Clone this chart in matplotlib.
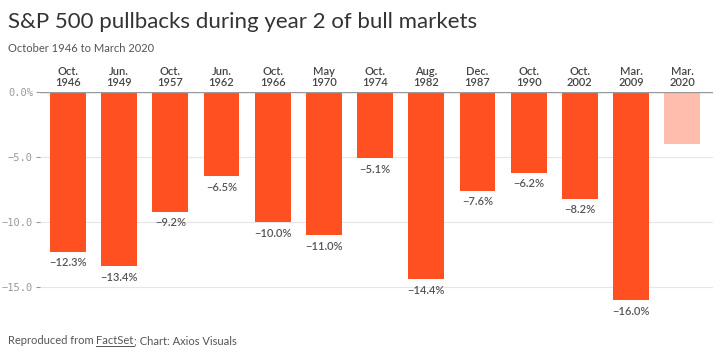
import matplotlib.pyplot as plt

# Datos
fechas = ['Oct.\n1946', 'Jun.\n1949', 'Oct.\n1957', 'Jun.\n1962', 'Oct.\n1966', 'May\n1970',
          'Oct.\n1974', 'Aug.\n1982', 'Dec.\n1987', 'Oct.\n1990', 'Oct.\n2002', 'Mar.\n2009',
          'Mar.\n2020']
caidas = [-12.3, -13.4, -9.2, -6.5, -10.0, -11.0, -5.1, -14.4, -7.6, -6.2, -8.2, -16.0, -4.0]
etiquetas = ['−12.3%', '−13.4%', '−9.2%', '−6.5%', '−10.0%', '−11.0%', '−5.1%', '−14.4%',
             '−7.6%', '−6.2%', '−8.2%', '−16.0%', '']
yticks = [0, -5, -10, -15]
ytick_labels = ['0.0%', '−5.0', '−10.0', '−15.0']

naranja = '#ff5022'
naranja_claro = '#ffbead'
colores = [naranja] * 12 + [naranja_claro]

fig = plt.figure(figsize=(7.15, 3.61), dpi=100)
ax = fig.add_axes([40 / 715, 51 / 361, 673 / 715, 218 / 361])

x = list(range(len(caidas)))
ax.bar(x, caidas, width=0.7, color=colores, zorder=2)

ax.set_xlim(-0.547, 12.6)
ax.set_ylim(-16.77, 0)

# Etiquetas de valor debajo de cada barra
for i, v in enumerate(caidas):
    if etiquetas[i]:
        ax.annotate(etiquetas[i], (i, v), xytext=(0, -4), textcoords='offset points',
                    ha='center', va='top', fontsize=8, color='#555555',
                    fontfamily='Lato', fontweight='semibold')

# Fechas arriba de cada barra
for i, f in enumerate(fechas):
    ax.annotate(f, (i, 0), xytext=(0, 3), textcoords='offset points',
                ha='center', va='bottom', fontsize=8, color='#444444',
                fontfamily='Lato', fontweight='semibold', linespacing=1.0)

ax.set_yticks(yticks)
ax.set_yticklabels(ytick_labels, fontfamily='DejaVu Sans Mono', fontsize=7.5, color='#999999')
ax.tick_params(axis='y', length=3, color='#999999', width=0.8, pad=2)
ax.set_xticks([])
ax.grid(axis='y', color='#e6e6e6', linewidth=0.8, zorder=0)
for lado in ['top', 'right', 'bottom', 'left']:
    ax.spines[lado].set_visible(False)
ax.axhline(0, color='#999999', linewidth=1, zorder=3)

fig.text(8 / 715, 1 - 28 / 361, 'S&P 500 pullbacks during year 2 of bull markets',
         fontsize=16, color='#333333', fontfamily='Lato', va='baseline')
fig.text(8 / 715, 1 - 52 / 361, 'October 1946 to March 2020',
         fontsize=8, color='#555555', fontfamily='Lato', va='baseline')

# Pie con "FactSet" subrayado
y_pie = 1 - 344 / 361
t1 = fig.text(8 / 715, y_pie, 'Reproduced from ', fontsize=8, color='#555555',
              fontfamily='Lato', va='baseline')
fig.canvas.draw()
r = fig.canvas.get_renderer()
b1 = t1.get_window_extent(r)
t2 = fig.text(b1.x1 / 715, y_pie, 'FactSet', fontsize=8, color='#555555',
              fontfamily='Lato', va='baseline')
b2 = t2.get_window_extent(r)
fig.add_artist(plt.Line2D([b2.x0 / 715, b2.x1 / 715], [y_pie - 2 / 361, y_pie - 2 / 361],
                          color='#555555', linewidth=0.7))
fig.text(b2.x1 / 715, y_pie, '; Chart: Axios Visuals', fontsize=8, color='#555555',
         fontfamily='Lato', va='baseline')

plt.savefig('out.png', dpi=100)
